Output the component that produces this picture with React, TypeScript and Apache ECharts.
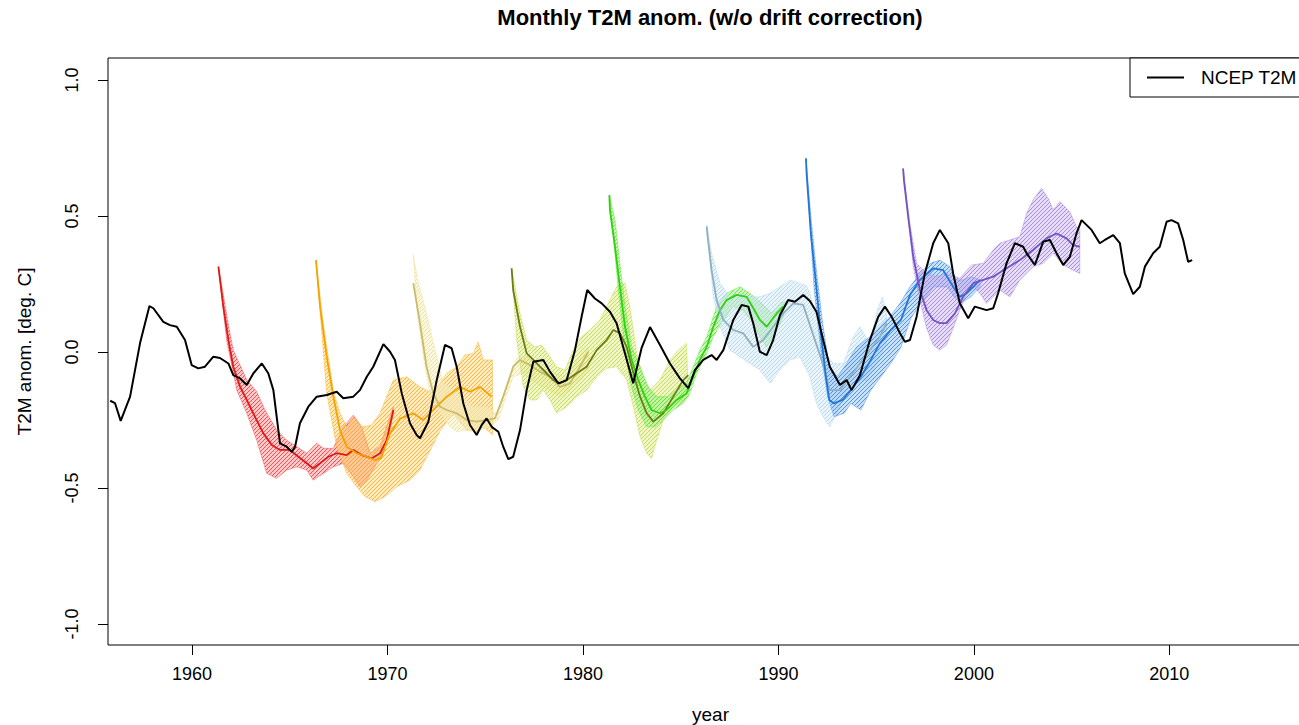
import React, { useEffect, useRef } from "react";
import * as echarts from "echarts";

const FONT = "'Liberation Sans', Arial, Helvetica, sans-serif";

const xTicks = [1960, 1970, 1980, 1990, 2000, 2010];
const yTicks = [-1, -0.5, 0, 0.5, 1];

const ncep: number[][] = [
  [1955.81,-0.179],[1956.06,-0.188],[1956.35,-0.253],[1956.83,-0.164],[1957.34,0.033],[1957.82,0.169],[1958.02,0.161],[1958.53,0.111],[1958.87,0.099],[1959.22,0.093],[1959.64,0.044],[1959.98,-0.048],[1960.32,-0.060],[1960.66,-0.054],[1961.09,-0.017],[1961.43,-0.022],[1961.86,-0.042],[1962.11,-0.085],[1962.46,-0.097],[1962.80,-0.121],[1963.14,-0.078],[1963.57,-0.042],[1963.90,-0.078],[1964.16,-0.140],[1964.50,-0.336],[1964.84,-0.348],[1965.10,-0.367],[1965.27,-0.348],[1965.52,-0.262],[1965.95,-0.201],[1966.38,-0.164],[1966.89,-0.158],[1967.40,-0.146],[1967.74,-0.170],[1968.25,-0.164],[1968.59,-0.140],[1968.94,-0.091],[1969.27,-0.054],[1969.79,0.029],[1970.13,0.001],[1970.38,-0.029],[1970.73,-0.152],[1971.15,-0.262],[1971.49,-0.305],[1971.66,-0.317],[1972.09,-0.256],[1972.52,-0.103],[1972.94,0.026],[1973.28,0.014],[1973.54,-0.054],[1973.88,-0.189],[1974.22,-0.268],[1974.56,-0.305],[1974.82,-0.268],[1975.07,-0.244],[1975.33,-0.275],[1975.67,-0.293],[1975.92,-0.348],[1976.18,-0.394],[1976.43,-0.385],[1976.78,-0.287],[1977.12,-0.140],[1977.46,-0.036],[1977.97,-0.029],[1978.31,-0.072],[1978.74,-0.115],[1979.17,-0.103],[1979.59,0.007],[1979.93,0.130],[1980.22,0.228],[1980.61,0.197],[1980.96,0.179],[1981.38,0.148],[1981.72,0.106],[1982.15,-0.005],[1982.57,-0.115],[1983.00,0.015],[1983.43,0.092],[1983.94,0.026],[1984.45,-0.042],[1984.96,-0.097],[1985.39,-0.133],[1985.73,-0.066],[1986.15,-0.029],[1986.58,-0.011],[1986.84,-0.029],[1987.18,0.007],[1987.69,0.118],[1988.12,0.173],[1988.46,0.167],[1988.71,0.106],[1989.05,0.001],[1989.40,-0.011],[1989.73,0.044],[1990.08,0.136],[1990.50,0.191],[1990.84,0.185],[1991.27,0.210],[1991.61,0.188],[1991.95,0.147],[1992.29,0.044],[1992.63,-0.054],[1993.15,-0.121],[1993.49,-0.103],[1993.74,-0.140],[1994.17,-0.085],[1994.68,0.044],[1995.11,0.130],[1995.45,0.167],[1995.79,0.130],[1996.22,0.069],[1996.47,0.038],[1996.73,0.044],[1997.07,0.130],[1997.49,0.289],[1997.92,0.400],[1998.26,0.449],[1998.69,0.400],[1998.94,0.289],[1999.28,0.179],[1999.71,0.124],[2000.05,0.167],[2000.65,0.154],[2000.99,0.161],[2001.24,0.216],[2001.67,0.326],[2002.10,0.400],[2002.52,0.387],[2002.70,0.363],[2003.12,0.320],[2003.55,0.406],[2003.89,0.412],[2004.23,0.363],[2004.57,0.320],[2004.91,0.350],[2005.25,0.436],[2005.51,0.485],[2006.02,0.449],[2006.44,0.400],[2006.70,0.412],[2007.13,0.430],[2007.47,0.400],[2007.72,0.289],[2008.15,0.213],[2008.49,0.240],[2008.75,0.314],[2009.17,0.363],[2009.51,0.387],[2009.86,0.479],[2010.11,0.485],[2010.45,0.473],[2010.71,0.412],[2010.96,0.332],[2011.17,0.338]
];

// Forecast started 1961
const redMean: number[][] = [[1961.35,0.314],[1961.60,0.167],[1961.86,0.044],[1962.11,-0.054],[1962.46,-0.128],[1962.80,-0.176],[1963.22,-0.238],[1963.65,-0.299],[1964.08,-0.342],[1964.50,-0.360],[1965.01,-0.360],[1965.44,-0.385],[1965.87,-0.409],[1966.20,-0.428],[1966.55,-0.409],[1966.97,-0.385],[1967.40,-0.372],[1967.91,-0.379],[1968.25,-0.360],[1968.68,-0.379],[1969.19,-0.391],[1969.62,-0.372],[1969.96,-0.324],[1970.30,-0.213]];
const redHi: number[][] = [[1961.35,0.314],[1961.60,0.21],[1961.86,0.099],[1962.11,0.007],[1962.80,-0.103],[1963.31,-0.146],[1963.73,-0.213],[1964.33,-0.287],[1964.84,-0.324],[1965.36,-0.348],[1965.87,-0.372],[1966.38,-0.335],[1966.72,-0.354],[1967.23,-0.354],[1967.74,-0.275],[1968.25,-0.232],[1968.68,-0.275],[1969.10,-0.372],[1969.62,-0.348],[1970.30,-0.201]];
const redLo: number[][] = [[1961.35,0.314],[1961.77,0.044],[1962.29,-0.140],[1962.80,-0.225],[1963.31,-0.324],[1963.82,-0.446],[1964.33,-0.464],[1964.84,-0.434],[1965.36,-0.422],[1965.87,-0.434],[1966.20,-0.471],[1966.72,-0.446],[1967.23,-0.422],[1967.74,-0.409],[1968.25,-0.458],[1968.59,-0.495],[1968.94,-0.471],[1969.45,-0.409],[1969.96,-0.336],[1970.30,-0.225]];

// Forecast started 1966
const orangeMean: number[][] = [[1966.34,0.338],[1966.55,0.167],[1966.89,-0.017],[1967.23,-0.164],[1967.57,-0.287],[1967.91,-0.348],[1968.42,-0.372],[1968.94,-0.385],[1969.36,-0.397],[1969.67,-0.390],[1970.13,-0.299],[1970.64,-0.245],[1971.32,-0.225],[1971.83,-0.250],[1972.34,-0.213],[1973.03,-0.164],[1973.71,-0.128],[1974.22,-0.146],[1974.73,-0.128],[1975.33,-0.164]];
const orangeHi: number[][] = [[1966.34,0.338],[1966.72,0.10],[1967.23,-0.140],[1967.57,-0.225],[1967.91,-0.275],[1968.25,-0.238],[1968.68,-0.275],[1969.19,-0.268],[1969.62,-0.224],[1970.30,-0.103],[1970.98,-0.091],[1971.66,-0.128],[1972.34,-0.152],[1973.03,-0.078],[1973.54,-0.054],[1973.96,-0.011],[1974.39,-0.005],[1974.64,0.038],[1974.90,-0.029],[1975.37,-0.029]];
const orangeLo: number[][] = [[1966.34,0.338],[1966.89,-0.152],[1967.40,-0.348],[1967.91,-0.446],[1968.42,-0.495],[1968.85,-0.532],[1969.36,-0.550],[1969.87,-0.532],[1970.47,-0.495],[1971.15,-0.471],[1971.66,-0.434],[1972.34,-0.340],[1972.69,-0.290],[1973.37,-0.225],[1974.05,-0.287],[1974.56,-0.293],[1974.90,-0.275],[1975.37,-0.305]];

// Forecast started 1971
const wheatMean: number[][] = [[1971.32,0.253],[1971.66,0.106],[1972.00,-0.054],[1972.34,-0.152],[1972.69,-0.201],[1973.03,-0.213],[1973.54,-0.225],[1974.05,-0.250],[1974.56,-0.256],[1975.07,-0.250],[1975.50,-0.244],[1975.92,-0.164],[1976.43,-0.054],[1976.78,-0.029],[1977.29,-0.048],[1977.80,-0.072],[1978.31,-0.091],[1978.82,-0.128],[1979.34,-0.115],[1979.85,-0.054],[1980.27,0.001]];
const wheatHi: number[][] = [[1971.32,0.357],[1971.58,0.253],[1972.00,0.142],[1972.43,0.007],[1972.85,-0.115],[1973.54,-0.152],[1974.39,-0.201],[1975.07,-0.201],[1975.59,-0.225],[1976.10,-0.128],[1976.61,-0.023],[1977.12,-0.017],[1977.80,-0.054],[1978.48,-0.078],[1979.17,-0.091],[1979.85,-0.011],[1980.27,0.019]];
const wheatLo: number[][] = [[1971.32,0.357],[1971.49,0.167],[1971.83,-0.017],[1972.17,-0.152],[1972.69,-0.225],[1973.20,-0.275],[1973.54,-0.293],[1974.05,-0.287],[1974.73,-0.287],[1975.24,-0.275],[1975.67,-0.250],[1976.01,-0.176],[1976.43,-0.091],[1976.94,-0.078],[1977.63,-0.115],[1978.31,-0.140],[1978.82,-0.164],[1979.50,-0.128],[1980.27,-0.066]];

// Forecast started 1976
const oliveMean: number[][] = [[1976.35,0.308],[1976.43,0.228],[1976.78,0.093],[1977.12,-0.005],[1977.46,-0.029],[1977.80,-0.054],[1978.14,-0.078],[1978.48,-0.103],[1978.82,-0.115],[1979.17,-0.103],[1979.68,-0.078],[1980.19,-0.054],[1980.70,0.007],[1981.21,0.044],[1981.55,0.081],[1981.89,0.069],[1982.24,0.019],[1982.58,-0.078],[1982.92,-0.164],[1983.26,-0.225],[1983.60,-0.256],[1984.11,-0.225],[1984.62,-0.164],[1985.13,-0.103],[1985.39,-0.085]];
const oliveHi: number[][] = [[1976.35,0.308],[1976.78,0.142],[1977.12,0.044],[1977.54,0.019],[1977.89,0.026],[1978.31,-0.017],[1978.65,-0.054],[1979.08,-0.066],[1979.50,0.007],[1979.93,0.056],[1980.36,0.081],[1980.87,0.118],[1981.38,0.191],[1981.72,0.240],[1982.15,0.253],[1982.40,0.167],[1982.75,-0.005],[1983.09,-0.103],[1983.43,-0.140],[1983.94,-0.103],[1984.45,-0.029],[1984.88,0.007],[1985.30,0.032]];
const oliveLo: number[][] = [[1976.35,0.308],[1976.61,0.044],[1976.95,-0.128],[1977.29,-0.176],[1977.63,-0.176],[1977.97,-0.140],[1978.31,-0.176],[1978.65,-0.225],[1979.17,-0.201],[1979.68,-0.164],[1980.19,-0.140],[1980.70,-0.091],[1981.21,-0.060],[1981.72,-0.054],[1982.24,-0.103],[1982.58,-0.201],[1982.92,-0.311],[1983.26,-0.372],[1983.51,-0.391],[1983.77,-0.324],[1984.11,-0.250],[1984.62,-0.201],[1985.13,-0.176],[1985.39,-0.164]];

// Forecast started 1981
const greenMean: number[][] = [[1981.35,0.577],[1981.38,0.522],[1981.64,0.387],[1981.89,0.240],[1982.15,0.093],[1982.49,-0.029],[1982.83,-0.103],[1983.17,-0.164],[1983.51,-0.213],[1983.94,-0.225],[1984.28,-0.213],[1984.79,-0.176],[1985.30,-0.152],[1985.64,-0.091],[1985.98,-0.029],[1986.33,0.019],[1986.67,0.093],[1987.01,0.154],[1987.35,0.191],[1987.86,0.210],[1988.37,0.203],[1988.71,0.162],[1989.05,0.118],[1989.40,0.093],[1989.91,0.142],[1990.25,0.167]];
const greenHi: number[][] = [[1981.35,0.577],[1981.64,0.485],[1981.89,0.326],[1982.15,0.167],[1982.49,0.019],[1982.92,-0.054],[1983.34,-0.128],[1983.77,-0.164],[1984.28,-0.164],[1984.79,-0.140],[1985.30,-0.115],[1985.64,-0.054],[1985.98,0.007],[1986.33,0.056],[1986.84,0.167],[1987.35,0.216],[1988.03,0.240],[1988.54,0.216],[1989.05,0.184],[1989.65,0.142],[1990.08,0.179],[1990.33,0.185]];
const greenLo: number[][] = [[1981.35,0.577],[1981.81,0.228],[1982.06,0.069],[1982.40,-0.103],[1982.83,-0.213],[1983.26,-0.275],[1983.68,-0.275],[1984.11,-0.250],[1984.62,-0.213],[1985.13,-0.189],[1985.47,-0.152],[1985.82,-0.078],[1986.33,-0.005],[1986.67,0.056],[1987.18,0.118],[1987.69,0.167],[1988.20,0.154],[1988.71,0.106],[1989.05,0.056],[1989.40,0.019],[1989.73,0.056],[1990.25,0.130]];

// Forecast started 1986
const lblueMean: number[][] = [[1986.33,0.461],[1986.38,0.424],[1986.58,0.301],[1986.84,0.191],[1987.18,0.118],[1987.69,0.081],[1988.20,0.069],[1988.71,0.019],[1989.22,0.044],[1989.73,0.093],[1990.25,0.142],[1990.76,0.179],[1991.27,0.173],[1991.78,0.063],[1992.21,-0.029],[1992.63,-0.140],[1993.15,-0.140],[1993.66,-0.091],[1994.17,-0.042],[1994.68,0.007],[1995.19,0.056],[1995.53,0.106]];
const lblueHi: number[][] = [[1986.33,0.467],[1986.58,0.363],[1987.01,0.253],[1987.52,0.203],[1988.03,0.216],[1988.54,0.203],[1989.05,0.203],[1989.57,0.216],[1990.08,0.240],[1990.59,0.265],[1991.10,0.253],[1991.44,0.243],[1991.61,0.216],[1991.95,0.130],[1992.29,0.007],[1992.80,-0.042],[1993.32,-0.042],[1993.83,0.056],[1994.17,0.093],[1994.68,0.030],[1995.06,0.154],[1995.32,0.203],[1995.53,0.142]];
const lblueLo: number[][] = [[1986.33,0.461],[1986.67,0.203],[1987.01,0.093],[1987.52,0.007],[1988.03,-0.017],[1988.54,-0.042],[1989.05,-0.066],[1989.57,-0.115],[1990.08,-0.066],[1990.59,-0.029],[1991.10,-0.017],[1991.61,-0.091],[1991.95,-0.189],[1992.29,-0.238],[1992.63,-0.275],[1992.98,-0.225],[1993.49,-0.140],[1994.00,-0.115],[1994.51,-0.103],[1995.02,-0.042],[1995.53,0.032]];

// Forecast started 1991
const blueMean: number[][] = [[1991.41,0.712],[1991.44,0.657],[1991.66,0.436],[1991.92,0.253],[1992.17,0.069],[1992.43,-0.091],[1992.60,-0.176],[1992.85,-0.189],[1993.28,-0.176],[1993.71,-0.140],[1994.22,-0.091],[1994.73,-0.029],[1995.19,0.032],[1995.75,0.081],[1996.27,0.118],[1996.73,0.210],[1997.24,0.265],[1997.92,0.308],[1998.43,0.301],[1998.94,0.240],[1999.28,0.203],[1999.63,0.216],[1999.97,0.240],[2000.31,0.265]];
const blueHi: number[][] = [[1991.41,0.712],[1991.66,0.497],[1991.92,0.314],[1992.26,0.106],[1992.60,-0.054],[1993.03,-0.091],[1993.49,-0.042],[1994.00,0.019],[1994.68,0.056],[1995.19,0.093],[1995.70,0.130],[1996.22,0.179],[1996.73,0.240],[1997.24,0.289],[1997.75,0.326],[1998.26,0.338],[1998.77,0.314],[1999.11,0.265],[1999.45,0.265],[1999.88,0.277],[2000.31,0.265]];
const blueLo: number[][] = [[1991.41,0.712],[1991.83,0.228],[1992.17,0.007],[1992.52,-0.164],[1992.85,-0.238],[1993.36,-0.225],[1993.71,-0.189],[1994.22,-0.213],[1994.73,-0.140],[1995.24,-0.091],[1995.75,-0.042],[1996.27,0.019],[1996.78,0.125],[1997.29,0.179],[1997.97,0.240],[1998.65,0.240],[1998.99,0.203],[1999.33,0.179],[1999.85,0.203],[2000.31,0.240]];

// Forecast started 1996
const purpleMean: number[][] = [[1996.38,0.675],[1996.42,0.632],[1996.64,0.497],[1996.90,0.350],[1997.24,0.228],[1997.58,0.154],[1997.92,0.118],[1998.26,0.106],[1998.60,0.106],[1999.03,0.142],[1999.45,0.203],[1999.97,0.253],[2000.48,0.265],[2000.99,0.277],[2001.67,0.308],[2002.35,0.338],[2003.03,0.375],[2003.71,0.418],[2004.23,0.436],[2004.74,0.418],[2005.08,0.393],[2005.42,0.387]];
const purpleHi: number[][] = [[1996.38,0.675],[1996.73,0.470],[1997.07,0.326],[1997.58,0.289],[1998.09,0.277],[1998.60,0.289],[1999.28,0.271],[1999.88,0.320],[2000.48,0.326],[2000.99,0.375],[2001.33,0.400],[2001.84,0.412],[2002.35,0.424],[2002.70,0.510],[2003.03,0.559],[2003.46,0.602],[2003.80,0.565],[2004.06,0.522],[2004.40,0.553],[2004.91,0.516],[2005.25,0.461],[2005.42,0.449]];
const purpleLo: number[][] = [[1996.38,0.675],[1996.90,0.314],[1997.24,0.191],[1997.58,0.088],[1997.92,0.026],[1998.26,0.007],[1998.60,0.026],[1998.94,0.088],[1999.28,0.154],[1999.63,0.216],[1999.97,0.240],[2000.31,0.216],[2000.65,0.179],[2000.99,0.203],[2001.33,0.228],[2001.84,0.203],[2002.35,0.265],[2003.03,0.314],[2003.55,0.326],[2004.06,0.363],[2004.57,0.320],[2005.08,0.301],[2005.42,0.289]];

const ensembles = [
  { mean: redMean, hi: redHi, lo: redLo, rgb: [245, 40, 40], line: "#e01818" },
  { mean: orangeMean, hi: orangeHi, lo: orangeLo, rgb: [250, 170, 10], line: "#f4a300" },
  { mean: wheatMean, hi: wheatHi, lo: wheatLo, rgb: [232, 220, 140], line: "#c9bc6c" },
  { mean: oliveMean, hi: oliveHi, lo: oliveLo, rgb: [190, 212, 45], line: "#6e7c14" },
  { mean: greenMean, hi: greenHi, lo: greenLo, rgb: [70, 225, 25], line: "#30d00c" },
  { mean: lblueMean, hi: lblueHi, lo: lblueLo, rgb: [168, 210, 232], line: "#8eb0c0" },
  { mean: blueMean, hi: blueHi, lo: blueLo, rgb: [45, 128, 228], line: "#2176d8" },
  { mean: purpleMean, hi: purpleHi, lo: purpleLo, rgb: [150, 112, 222], line: "#7452c4" },
];

function tint(rgb: number[], w: number) {
  return rgb.map((c) => Math.round(c + (255 - c) * w)).join(",");
}

function hatch(rgb: number[]) {
  const n = 4;
  const c = document.createElement("canvas");
  c.width = n;
  c.height = n;
  const g = c.getContext("2d")!;
  g.fillStyle = `rgba(${tint(rgb, 0.2)},0.3)`;
  g.fillRect(0, 0, n, n);
  g.strokeStyle = `rgba(${tint(rgb, 0.12)},0.9)`;
  g.lineWidth = 1;
  g.beginPath();
  g.moveTo(-1, n + 1);
  g.lineTo(n + 1, -1);
  g.moveTo(-1, 1);
  g.lineTo(1, -1);
  g.moveTo(n - 1, n + 1);
  g.lineTo(n + 1, n - 1);
  g.stroke();
  return { image: c, repeat: "repeat", imageWidth: n, imageHeight: n };
}

export default function App() {
  const ref = useRef<HTMLDivElement>(null);
  useEffect(() => {
    if (!ref.current) return;
    const chart = echarts.init(ref.current, null, { renderer: "svg" });

    const series: any[] = [];
    ensembles.forEach((e, i) => {
      const fill = hatch(e.rgb);
      series.push({
        type: "custom",
        silent: true,
        z: 2 + i * 0.01,
        clip: true,
        data: [e.hi[0]],
        renderItem: (_p: any, api: any) => {
          const pts = e.hi
            .map((p) => api.coord(p))
            .concat(e.lo.slice().reverse().map((p) => api.coord(p)));
          return {
            type: "polygon",
            shape: { points: pts },
            style: { fill, stroke: `rgba(${tint(e.rgb, 0.2)},0.65)`, lineWidth: 0.8 },
          };
        },
      });
      series.push({
        type: "line",
        silent: true,
        z: 3,
        showSymbol: false,
        data: e.mean,
        lineStyle: { color: e.line, width: 1.8 },
      });
    });
    series.push({
      name: "NCEP T2M",
      type: "line",
      z: 10,
      showSymbol: false,
      data: ncep,
      itemStyle: { color: "#000" },
      lineStyle: { color: "#000", width: 2 },
    });

    const axisText = { fontFamily: FONT, color: "#000" };
    chart.setOption({
      animation: false,
      backgroundColor: "#fff",
      title: {
        text: "Monthly T2M anom. (w/o drift correction)",
        left: 710,
        top: 6,
        textAlign: "center",
        padding: 0,
        textStyle: { ...axisText, fontSize: 22, fontWeight: "bold" },
      },
      grid: {
        left: 108,
        top: 58,
        right: -14,
        bottom: 80,
        outerBoundsMode: "none",
        containLabel: false,
        show: true,
        borderColor: "#000",
        borderWidth: 1,
        backgroundColor: "transparent",
      },
      legend: {
        data: ["NCEP T2M"],
        left: 1130,
        top: 58,
        padding: [10, 80, 10, 17],
        borderColor: "#000",
        borderWidth: 1,
        borderRadius: 0,
        backgroundColor: "#fff",
        icon: "rect",
        itemWidth: 37,
        itemHeight: 2,
        textStyle: { ...axisText, fontSize: 19, padding: [0, 0, 0, 12] },
      },
      xAxis: {
        type: "value",
        min: 1955.7,
        max: 2017.35,
        name: "year",
        nameLocation: "middle",
        nameGap: 60,
        nameTextStyle: { ...axisText, fontSize: 19 },
        axisLine: { show: false, onZero: false },
        axisTick: { show: true, length: 10, customValues: xTicks, lineStyle: { color: "#000" } },
        axisLabel: {
          ...axisText,
          fontSize: 18,
          margin: 20,
          customValues: xTicks,
          formatter: (v: number) => String(v),
        },
        splitLine: { show: false },
      },
      yAxis: {
        type: "value",
        min: -1.077,
        max: 1.081,
        name: "T2M anom. [deg. C]",
        nameLocation: "middle",
        nameGap: 74,
        nameTextStyle: { ...axisText, fontSize: 19 },
        axisLine: { show: false, onZero: false },
        axisTick: { show: true, length: 10, customValues: yTicks, lineStyle: { color: "#000" } },
        axisLabel: {
          ...axisText,
          fontSize: 18,
          margin: 27,
          rotate: 90,
          customValues: yTicks,
          formatter: (v: number) => v.toFixed(1),
        },
        splitLine: { show: false },
      },
      series,
    });
    return () => chart.dispose();
  }, []);
  return (
    <div
      ref={ref}
      style={{ position: "fixed", left: 0, top: 0, width: 1299, height: 725 }}
    />
  );
}
